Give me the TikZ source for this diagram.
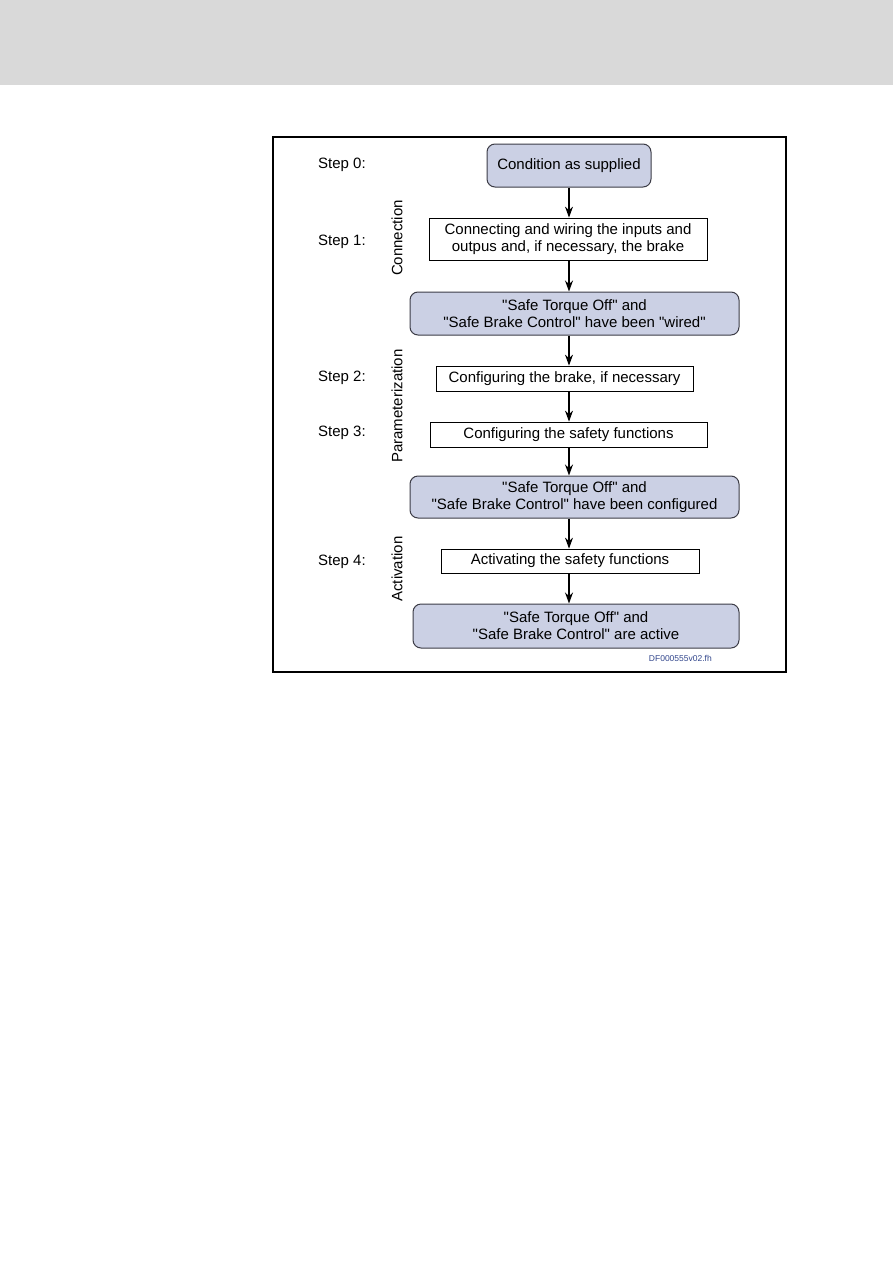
\documentclass[tikz,border=0pt]{standalone}
\usepackage{fontspec}
\setmainfont{Liberation Sans}[Ligatures=TeXOff]
\usetikzlibrary{arrows.meta}
\definecolor{hdr}{RGB}{217,217,217}
\definecolor{boxfill}{RGB}{203,208,228}
\definecolor{boxline}{RGB}{60,60,70}
\definecolor{refblue}{RGB}{50,70,140}
\newcommand{\dq}{\symbol{34}}
\begin{document}
\begin{tikzpicture}[x=1pt,y=-1pt,
  txt/.style={font=\fontsize{15}{17}\selectfont},
  statebox/.style={txt,draw=boxline,line width=1pt,fill=boxfill,rounded corners=8pt,align=center,inner sep=0pt},
  actbox/.style={txt,draw=black,line width=0.8pt,fill=white,align=center,inner sep=0pt},
  steplbl/.style={txt,anchor=west,inner sep=0pt},
  phaselbl/.style={txt,rotate=90,inner sep=0pt},
  arr/.style={-{Stealth[length=11pt,width=8pt]},line width=1.2pt}]
\useasboundingbox (0,0) rectangle (893,1263);
\fill[hdr] (0,0) rectangle (893,85);
\draw[line width=1.3pt] (273,137) rectangle (786,672);
\coordinate (ax) at (569,0);
\node[statebox,minimum width=164pt,minimum height=43pt] (b1) at (569,165.5) {Condition as supplied};
\node[actbox,minimum width=278pt,minimum height=42pt] (b2) at (568,239) {Connecting and wiring the inputs and\\outpus and, if necessary, the brake};
\node[statebox,minimum width=329pt,minimum height=43pt] (b3) at (574.5,313.5) {\dq Safe Torque Off\dq{} and\\\dq Safe Brake Control\dq{} have been \dq wired\dq};
\node[actbox,minimum width=257pt,minimum height=25pt] (b4) at (564.5,378.5) {Configuring the brake, if necessary};
\node[actbox,minimum width=277pt,minimum height=25pt] (b5) at (568.5,434.5) {Configuring the safety functions};
\node[statebox,minimum width=329pt,minimum height=42pt] (b6) at (574.5,497) {\dq Safe Torque Off\dq{} and\\\dq Safe Brake Control\dq{} have been configured};
\node[actbox,minimum width=258pt,minimum height=24pt] (b7) at (570,561) {Activating the safety functions};
\node[statebox,minimum width=326pt,minimum height=44pt] (b8) at (576,626) {\dq Safe Torque Off\dq{} and\\\dq Safe Brake Control\dq{} are active};
\draw[arr] (b1.south -| ax) -- (b2.north -| ax);
\draw[arr] (b2.south -| ax) -- (b3.north -| ax);
\draw[arr] (b3.south -| ax) -- (b4.north -| ax);
\draw[arr] (b4.south -| ax) -- (b5.north -| ax);
\draw[arr] (b5.south -| ax) -- (b6.north -| ax);
\draw[arr] (b6.south -| ax) -- (b7.north -| ax);
\draw[arr] (b7.south -| ax) -- (b8.north -| ax);
\node[steplbl] (s0) at (318,165) {Step 0:};
\node[steplbl] (s1) at (318,242) {Step 1:};
\node[steplbl] (s2) at (318,378) {Step 2:};
\node[steplbl] (s3) at (318,433) {Step 3:};
\node[steplbl] (s4) at (318,562) {Step 4:};
\node[phaselbl] (p1) at (397,238) {Connection};
\node[phaselbl] (p2) at (397,406) {Parameterization};
\node[phaselbl] (p3) at (397,569) {Activation};
\node[anchor=east,inner sep=0pt,text=refblue,font=\fontsize{8.5}{10}\selectfont] (ref) at (712,658) {DF000555v02.fh};
\end{tikzpicture}
\end{document}
